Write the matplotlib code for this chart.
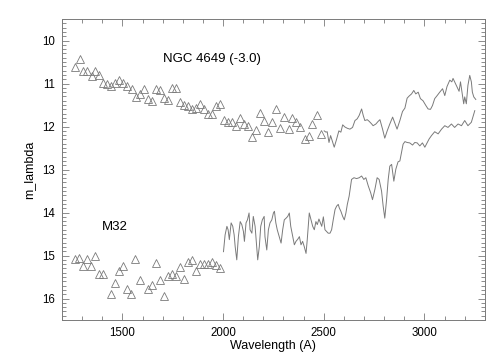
import matplotlib
matplotlib.use("Agg")
import matplotlib.pyplot as plt
from matplotlib.ticker import MultipleLocator

plt.rcParams['font.family'] = ['Liberation Sans', 'DejaVu Sans']

# NGC 4649 (shifted by -3.0): UV points (triangles) + optical spectrum (line)
ngc_pts_x = [1267, 1287, 1306, 1326, 1348, 1364, 1385, 1406, 1426, 1445, 1464, 1484,
             1503, 1525, 1546, 1568, 1588, 1606, 1626, 1645, 1665, 1685, 1707, 1725,
             1747, 1766, 1784, 1804, 1824, 1844, 1866, 1886, 1905, 1925, 1945, 1965,
             1985, 2005, 2025, 2044, 2064, 2084, 2104, 2124, 2143, 2163, 2183, 2203,
             2223, 2243, 2264, 2284, 2304, 2325, 2344, 2364, 2383, 2405, 2425, 2443,
             2464, 2484]
ngc_pts_y = [10.62, 10.44, 10.70, 10.70, 10.83, 10.71, 10.80, 10.99, 11.02, 11.06, 10.99, 10.91,
             10.98, 11.05, 11.12, 11.32, 11.25, 11.13, 11.37, 11.41, 11.12, 11.14, 11.34, 11.38,
             11.11, 11.11, 11.44, 11.49, 11.53, 11.59, 11.56, 11.48, 11.59, 11.71, 11.71, 11.52,
             11.48, 11.85, 11.90, 11.90, 11.99, 11.81, 11.94, 11.98, 12.24, 12.09, 11.68, 11.88,
             12.13, 11.90, 11.59, 12.03, 11.77, 12.06, 11.81, 11.90, 12.02, 12.30, 12.21, 11.94,
             11.72, 12.17]

ngc_spec_x = [2502, 2511, 2517, 2526, 2534, 2542, 2552, 2564, 2575, 2585, 2594, 2605,
              2617, 2630, 2643, 2655, 2666, 2676, 2688, 2696, 2704, 2716, 2726, 2738,
              2745, 2759, 2770, 2779, 2792, 2803, 2815, 2828, 2842, 2853, 2864, 2878,
              2891, 2903, 2914, 2924, 2936, 2947, 2957, 2969, 2980, 2993, 3007, 3018,
              3030, 3040, 3051, 3063, 3076, 3090, 3101, 3112, 3126, 3136, 3142, 3150,
              3162, 3172, 3179, 3189, 3195, 3200, 3208, 3216, 3225, 3233, 3238, 3245, 3255]
ngc_spec_y = [12.10, 12.13, 12.12, 12.37, 12.21, 12.33, 12.48, 12.29, 12.10, 12.13, 11.96, 12.01,
              12.04, 12.06, 12.02, 11.86, 11.82, 11.74, 11.59, 11.74, 11.86, 11.84, 11.88, 11.94,
              11.98, 11.94, 11.88, 11.84, 12.06, 12.27, 12.10, 11.94, 11.78, 11.92, 12.06, 11.86,
              11.65, 11.57, 11.34, 11.29, 11.24, 11.16, 11.24, 11.20, 11.35, 11.40, 11.51, 11.59,
              11.60, 11.51, 11.35, 11.28, 11.20, 11.12, 11.28, 11.07, 10.92, 10.96, 10.88, 10.96,
              11.08, 11.18, 10.96, 11.28, 11.47, 11.31, 11.47, 11.04, 10.81, 10.96, 11.20, 11.31, 11.37]

# M32: UV points (triangles) + optical spectrum (line)
m32_pts_x = [1265, 1285, 1306, 1326, 1346, 1366, 1386, 1406, 1445, 1465, 1485, 1505,
             1525, 1545, 1565, 1586, 1626, 1645, 1665, 1685, 1705, 1725, 1745, 1765,
             1784, 1804, 1824, 1844, 1864, 1884, 1904, 1923, 1943, 1963, 1983]
m32_pts_y = [15.09, 15.06, 15.24, 15.09, 15.24, 15.02, 15.44, 15.43, 15.89, 15.64, 15.37, 15.25,
             15.78, 15.89, 15.08, 15.56, 15.78, 15.69, 15.18, 15.56, 15.95, 15.47, 15.43, 15.47,
             15.26, 15.54, 15.16, 15.11, 15.35, 15.20, 15.20, 15.20, 15.15, 15.22, 15.28]

m32_spec_x = [2002, 2010, 2019, 2025, 2031, 2040, 2048, 2055, 2060, 2068, 2076, 2085,
              2093, 2101, 2106, 2114, 2121, 2129, 2134, 2143, 2150, 2159, 2167, 2172,
              2180, 2187, 2195, 2204, 2208, 2217, 2225, 2233, 2242, 2250, 2255, 2262,
              2269, 2279, 2288, 2296, 2304, 2313, 2321, 2329, 2336, 2346, 2354, 2362,
              2371, 2379, 2387, 2395, 2403, 2412, 2418, 2428, 2437, 2445, 2453, 2461,
              2468, 2476, 2481, 2490, 2498, 2506, 2514, 2522, 2531, 2539, 2547, 2556,
              2564, 2572, 2577, 2585, 2594, 2602, 2610, 2617, 2626, 2638, 2650, 2663,
              2676, 2688, 2699, 2709, 2721, 2733, 2742, 2754, 2765, 2775, 2787, 2795,
              2803, 2812, 2820, 2828, 2837, 2848, 2858, 2869, 2878, 2886, 2894, 2903,
              2914, 2927, 2941, 2952, 2964, 2977, 2990, 3002, 3013, 3023, 3035, 3051,
              3068, 3085, 3101, 3117, 3134, 3150, 3167, 3184, 3200, 3216, 3233, 3250]
m32_spec_y = [14.91, 14.52, 14.32, 14.40, 14.63, 14.24, 14.32, 14.52, 14.79, 15.10, 14.56, 14.21,
              14.28, 14.44, 14.67, 14.24, 14.17, 14.01, 14.40, 14.48, 14.09, 14.32, 14.79, 15.10,
              14.79, 14.32, 14.17, 14.09, 14.56, 14.87, 14.40, 14.24, 14.17, 14.01, 13.97, 14.24,
              14.40, 14.56, 14.71, 14.40, 14.17, 14.13, 14.09, 14.01, 14.32, 14.56, 14.75, 14.67,
              14.62, 14.56, 14.75, 14.67, 14.79, 14.95, 14.63, 14.01, 14.17, 14.32, 14.40, 14.21,
              14.28, 14.15, 14.21, 14.32, 14.10, 14.40, 14.44, 14.48, 14.48, 14.40, 14.17, 13.93,
              13.85, 13.81, 13.89, 13.97, 14.09, 14.17, 14.01, 13.81, 13.62, 13.23, 13.19, 13.21,
              13.19, 13.15, 13.23, 13.19, 13.38, 13.54, 13.70, 13.46, 13.19, 13.23, 13.50, 13.85,
              14.13, 13.70, 13.23, 12.92, 12.88, 13.27, 12.99, 12.82, 12.80, 12.60, 12.41, 12.35,
              12.37, 12.38, 12.43, 12.37, 12.38, 12.45, 12.38, 12.48, 12.38, 12.29, 12.21, 12.12,
              12.17, 12.06, 11.98, 12.02, 11.94, 12.02, 11.94, 11.98, 11.86, 11.98, 11.90, 11.63]

gray = '#7a7a7a'

fig = plt.figure(figsize=(5.04, 3.6), dpi=100)
ax = fig.add_axes([0.123, 0.111, 0.839, 0.836])

ax.plot(ngc_pts_x, ngc_pts_y, '^', ms=6, mfc='none', mec=gray, mew=0.6, ls='none')
ax.plot(m32_pts_x, m32_pts_y, '^', ms=6, mfc='none', mec=gray, mew=0.6, ls='none')
ax.plot(ngc_spec_x, ngc_spec_y, color=gray, lw=0.7)
ax.plot(m32_spec_x, m32_spec_y, color=gray, lw=0.7)

ax.text(1703, 10.43, 'NGC 4649 (-3.0)', fontsize=9.5, va='center', ha='left')
ax.text(1400, 14.33, 'M32', fontsize=9.5, va='center', ha='left')

ax.set_xlim(1200, 3300)
ax.set_ylim(16.5, 9.5)
ax.xaxis.set_major_locator(MultipleLocator(500))
ax.xaxis.set_minor_locator(MultipleLocator(100))
ax.yaxis.set_major_locator(MultipleLocator(1))
ax.yaxis.set_minor_locator(MultipleLocator(0.1))

ax.tick_params(which='both', direction='in', top=True, right=True, color=gray,
               width=0.6, labelsize=8.3)
ax.tick_params(which='major', length=5, pad=5)
ax.tick_params(which='minor', length=3)
for s in ax.spines.values():
    s.set_color(gray)
    s.set_linewidth(0.7)

ax.set_xlabel('Wavelength (A)', fontsize=9, labelpad=1)
ax.set_ylabel('m_lambda', fontsize=9, labelpad=5)

fig.savefig('out.png', dpi=100)
